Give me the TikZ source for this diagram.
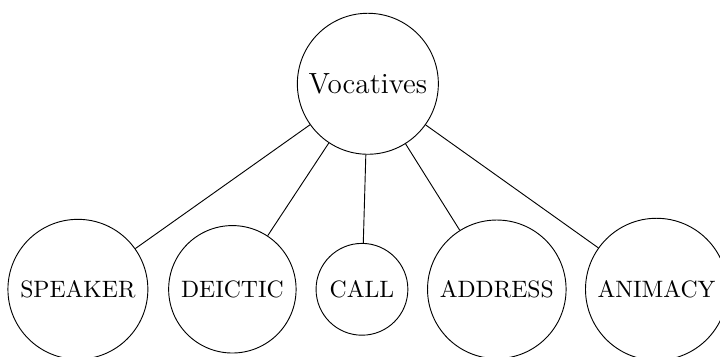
\documentclass[tikz,border=0pt]{standalone}
\usepackage{tikz}
\usetikzlibrary{positioning}

\begin{document}
\begin{tikzpicture}[
    cat/.style={draw, circle, inner sep=4.3pt, font=\fontsize{10.3}{12}\selectfont},
    top/.style={cat, inner sep=3.8pt, font=\fontsize{12.7}{15}\selectfont}]
\useasboundingbox (0,0) rectangle (11.0,5.44);

\node[top] (voc) at (5.62, 4.16) {Vocatives};

\node[cat] (speaker) at ( 1.19, 1.02) {SPEAKER};
\node[cat] (deictic) at ( 3.55, 1.02) {DEICTIC};
\node[cat] (call)    at ( 5.53, 1.02) {CALL};
\node[cat] (address) at ( 7.59, 1.02) {ADDRESS};
\node[cat] (animacy) at (10.03, 1.02) {ANIMACY};

\foreach \c in {speaker,deictic,call,address,animacy}
    \draw (voc) -- (\c);
\end{tikzpicture}
\end{document}
